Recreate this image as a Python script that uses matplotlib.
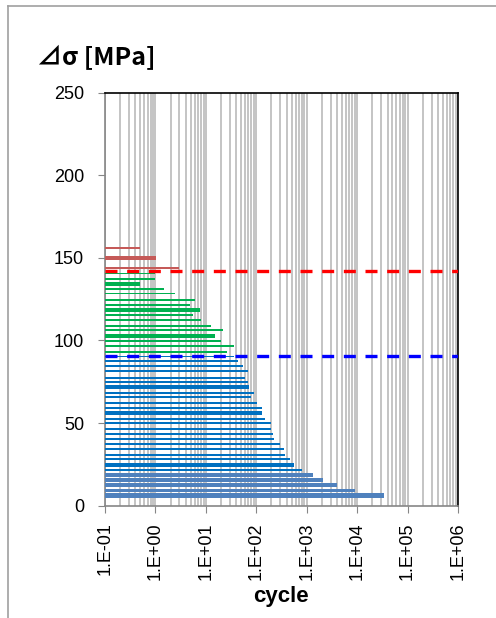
import matplotlib.pyplot as plt
from matplotlib.ticker import LogLocator, NullFormatter, FixedLocator

# stress range [MPa] and cycles
red_s = [155.8, 150.3, 149.1, 143.9]
red_n = [0.49, 1.03, 1.03, 2.98]

green_s = [140.5, 137.2, 134.6, 133.4, 131.2, 128.4, 124.4, 121.5, 119.1, 117.9,
           115.5, 112.3, 108.8, 106.4, 103.4, 102.2, 99.8, 96.7, 93.1]
green_n = [1.0, 1.0, 0.49, 0.49, 1.48, 2.45, 6.1, 4.86, 7.67, 7.67,
           5.57, 8.0, 12.7, 21.9, 15.2, 15.2, 20.0, 36.0, 26.5]

blue_s = [90.3, 87.3, 84.3, 81.6, 77.4, 75.0, 72.5, 71.3, 68.3, 65.9, 62.1, 59.3,
          56.5, 55.3, 52.6, 50.2, 46.6, 43.4, 40.3, 37.3, 34.3, 30.8, 28.2,
          25.4, 24.2, 21.8]
blue_n = [36.0, 43.5, 55.0, 69.0, 60.0, 69.0, 72.0, 72.0, 90.0, 79.0, 102.0, 130.0,
          130.0, 130.0, 147.0, 196.0, 196.0, 212.0, 223.0, 295.0, 350.0, 373.0, 468.0,
          563.0, 563.0, 800.0]

lblue_s = [18.6, 15.5, 12.5, 9.3, 6.4, 5.4]
lblue_n = [1320.0, 2150.0, 4070.0, 8900.0, 34000.0, 34000.0]

red_line = 142.3
blue_line = 90.3

plt.rcParams['font.family'] = ['Liberation Sans', 'DejaVu Sans']

fig = plt.figure(figsize=(4.96, 6.18), dpi=100)
ax = fig.add_axes([0.2117, 0.1817, 0.7117, 0.6686])

x0 = 0.1
ax.barh(red_s, [n - x0 for n in red_n], left=x0, height=1.15, color='#C55A58', zorder=3)
ax.barh(green_s, [n - x0 for n in green_n], left=x0, height=1.15, color='#00B050', zorder=3)
ax.barh(blue_s, [n - x0 for n in blue_n], left=x0, height=1.15, color='#0070C0', zorder=3)
ax.barh(lblue_s, [n - x0 for n in lblue_n], left=x0, height=2.0, color='#4F81BD', zorder=3)

ax.axhline(red_line, color='#FF0000', lw=2.4, ls=(0, (3.6, 2.9)), zorder=4)
ax.axhline(blue_line, color='#0000FF', lw=2.4, ls=(0, (3.6, 2.9)), zorder=4)

ax.set_xscale('log')
ax.set_xlim(0.1, 1e6)
ax.set_ylim(0, 250)
ax.set_yticks([0, 50, 100, 150, 200, 250])
ax.xaxis.set_major_locator(FixedLocator([10.0 ** k for k in range(-1, 7)]))
ax.set_xticklabels(['1.E-01', '1.E+00', '1.E+01', '1.E+02', '1.E+03',
                    '1.E+04', '1.E+05', '1.E+06'], rotation=90)
ax.xaxis.set_minor_locator(LogLocator(base=10, subs=range(2, 10), numticks=20))
ax.xaxis.set_minor_formatter(NullFormatter())
ax.grid(True, which='both', axis='x', color='#BFBFBF', lw=1.3, zorder=0)
ax.set_axisbelow(True)

ax.tick_params(axis='both', which='major', labelsize=13, length=5, color='#868686',
               labelcolor='black')
ax.tick_params(axis='y', pad=10)
ax.tick_params(axis='x', pad=7)
ax.tick_params(axis='x', which='minor', length=0)
for s in ['left', 'bottom']:
    ax.spines[s].set_color('#868686')
    ax.spines[s].set_linewidth(1.2)
for s in ['top', 'right']:
    ax.spines[s].set_color('black')
    ax.spines[s].set_linewidth(1.2)

fig.text(0.075, 0.907, '⊿σ [MPa]', fontsize=18, fontweight='bold',
         family=['Noto Sans CJK JP', 'DejaVu Sans'], ha='left', va='center')
fig.text(0.567, 0.034, 'cycle', fontsize=16, fontweight='bold', ha='center', va='center')

# chart area frame
fig.add_artist(plt.Line2D([0.016, 1.0], [0.9895, 0.9895], color='#A0A0A0', lw=1.2))
fig.add_artist(plt.Line2D([0.016, 0.016], [0.0, 0.9895], color='#A0A0A0', lw=1.2))

fig.savefig('out.png', dpi=100)
